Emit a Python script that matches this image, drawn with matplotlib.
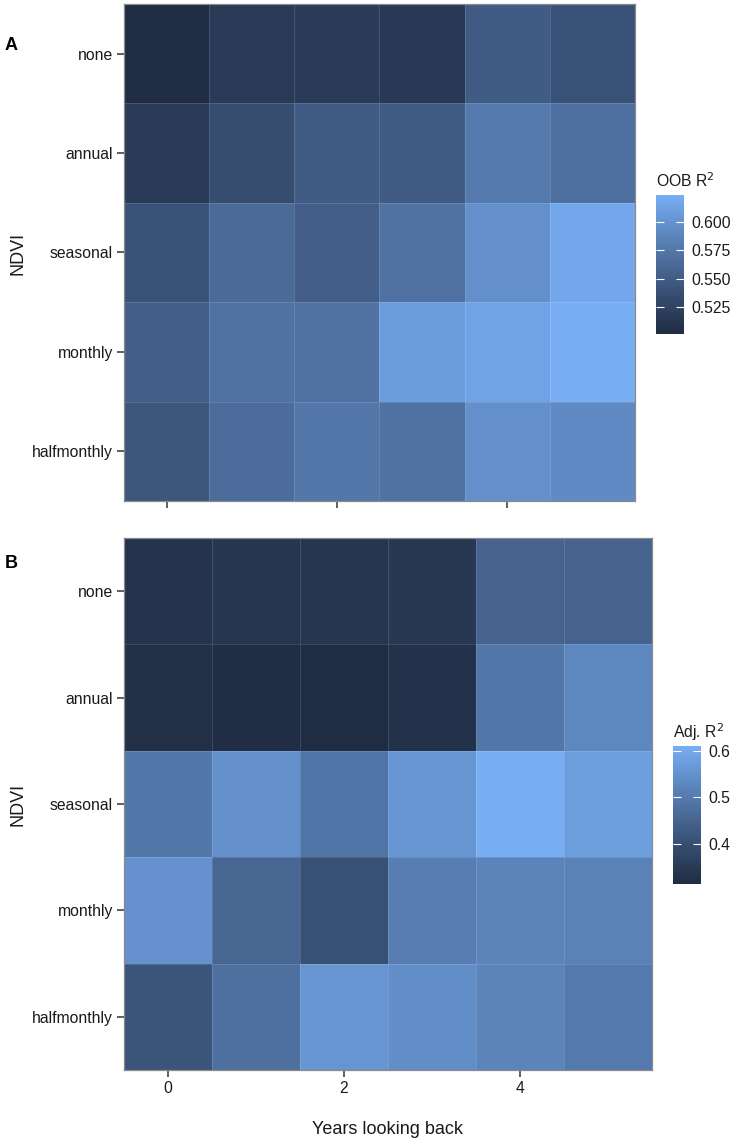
import numpy as np
import matplotlib
matplotlib.use("Agg")
import matplotlib.pyplot as plt
from matplotlib.colors import ListedColormap

plt.rcParams['font.family'] = ['Liberation Sans', 'DejaVu Sans']

ndvi_levels = ["none", "annual", "seasonal", "monthly", "halfmonthly"]
years_back = [0, 1, 2, 3, 4, 5]
x_ticks = [0, 2, 4]

# OOB R^2 (panel A), rows follow ndvi_levels, columns follow years_back
oob_r2 = [
    [0.501, 0.516, 0.517, 0.515, 0.550, 0.540],
    [0.517, 0.535, 0.550, 0.550, 0.577, 0.569],
    [0.540, 0.563, 0.553, 0.571, 0.597, 0.618],
    [0.553, 0.571, 0.571, 0.608, 0.614, 0.624],
    [0.544, 0.565, 0.575, 0.571, 0.597, 0.592],
]
oob_ticks = [0.525, 0.550, 0.575, 0.600]

# adjusted R^2 (panel B)
adj_r2 = [
    [0.332, 0.338, 0.338, 0.344, 0.448, 0.448],
    [0.320, 0.316, 0.313, 0.326, 0.492, 0.528],
    [0.492, 0.546, 0.486, 0.558, 0.611, 0.575],
    [0.552, 0.454, 0.403, 0.507, 0.522, 0.516],
    [0.412, 0.477, 0.558, 0.543, 0.522, 0.498],
]
adj_ticks = [0.4, 0.5, 0.6]


def hex_to_rgb(h):
    h = h.lstrip("#")
    return np.array([int(h[i:i + 2], 16) / 255 for i in (0, 2, 4)])


M = np.array([[0.4124, 0.3576, 0.1805],
              [0.2126, 0.7152, 0.0722],
              [0.0193, 0.1192, 0.9505]])
WHITE = np.array([0.95047, 1.0, 1.08883])


def rgb_to_lab(rgb):
    lin = np.where(rgb <= 0.04045, rgb / 12.92, ((rgb + 0.055) / 1.055) ** 2.4)
    xyz = M @ lin / WHITE
    f = np.where(xyz > 0.008856, np.cbrt(xyz), 7.787 * xyz + 16 / 116)
    return np.array([116 * f[1] - 16, 500 * (f[0] - f[1]), 200 * (f[1] - f[2])])


def lab_to_rgb(lab):
    fy = (lab[0] + 16) / 116
    fx = fy + lab[1] / 500
    fz = fy - lab[2] / 200
    f = np.array([fx, fy, fz])
    xyz = np.where(f ** 3 > 0.008856, f ** 3, (f - 16 / 116) / 7.787) * WHITE
    lin = np.linalg.solve(M, xyz)
    lin = np.clip(lin, 0, 1)
    rgb = np.where(lin <= 0.0031308, 12.92 * lin, 1.055 * lin ** (1 / 2.4) - 0.055)
    return np.clip(rgb, 0, 1)


def lab_gradient(low, high, n=256):
    a = rgb_to_lab(hex_to_rgb(low))
    b = rgb_to_lab(hex_to_rgb(high))
    cols = [lab_to_rgb(a + (b - a) * t) for t in np.linspace(0, 1, n)]
    return ListedColormap(cols)


cmap = lab_gradient("#202c43", "#77aef4")

W, H = 735, 1142
fig = plt.figure(figsize=(W / 100, H / 100), dpi=100)

ax_a = fig.add_axes([0.1687, 0.5613, 0.6952, 0.4352])
ax_b = fig.add_axes([0.1687, 0.0630, 0.7184, 0.4658])
cax_a = fig.add_axes([0.8925, 0.7075, 0.0381, 0.1217])
cax_b = fig.add_axes([0.9156, 0.2259, 0.0381, 0.1208])

xe = np.arange(len(years_back) + 1) - 0.5
ye = np.arange(len(ndvi_levels) + 1) - 0.5

txt = "#1a1a1a"
for ax, cax, vals, ticks, fmt, title, letter, ly, ny in [
        (ax_a, cax_a, oob_r2, oob_ticks, "{:.3f}", "OOB R$^2$", "A", 46, 253),
        (ax_b, cax_b, adj_r2, adj_ticks, "{:.1f}", "Adj. R$^2$", "B", 563, 804)]:
    arr = np.array(vals)
    mesh = ax.pcolormesh(xe, ye, arr, cmap=cmap, vmin=arr.min(), vmax=arr.max(),
                         edgecolors=(1, 1, 1, 0.13), linewidth=0.6)
    ax.set_xlim(xe[0], xe[-1])
    ax.set_ylim(ye[-1], ye[0])
    ax.set_yticks(range(len(ndvi_levels)))
    ax.set_yticklabels(ndvi_levels)
    ax.set_xticks(x_ticks)
    ax.tick_params(length=5, width=1.1, color="#333333", labelsize=11.3,
                   labelcolor=txt, pad=3)
    for s in ax.spines.values():
        s.set_color("#8a8a8a")
        s.set_linewidth(0.9)
    fig.text(18 / W, 1 - ny / H, "NDVI", rotation=90, fontsize=13,
             ha="center", va="center", color=txt)
    fig.text(5 / W, 1 - ly / H, letter, fontsize=13, fontweight="bold",
             ha="left", va="center", color="black")

    cb = fig.colorbar(mesh, cax=cax)
    cb.outline.set_visible(False)
    cb.set_ticks(ticks)
    cb.set_ticklabels([fmt.format(t) for t in ticks])
    cax.tick_params(axis="y", left=True, right=True, direction="in",
                    color="white", length=6, width=0.8, labelsize=11.3,
                    labelcolor=txt, pad=5)
    cax.set_title(title, loc="left", fontsize=11.3, pad=6, color=txt)

ax_a.set_xticklabels([])
fig.text(388 / W, 1 - 1130 / H, "Years looking back", fontsize=13,
         ha="center", va="center", color=txt)

fig.savefig("out.png", dpi=100)
